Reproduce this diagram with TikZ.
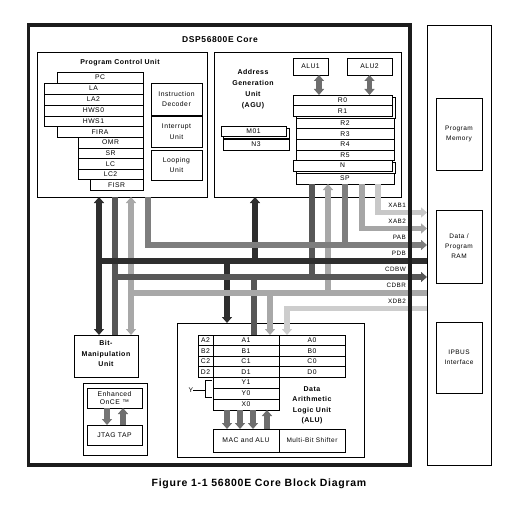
\documentclass[tikz,border=0pt]{standalone}
\usepackage{fontspec}
\setmainfont{Liberation Sans}[LetterSpace=7]
\usetikzlibrary{arrows.meta}
\definecolor{cpdb}{HTML}{2E2E2E}
\definecolor{ccdbw}{HTML}{575757}
\definecolor{cpab}{HTML}{7E7E7E}
\definecolor{ccdbr}{HTML}{A8A8A8}
\definecolor{cxab2}{HTML}{A6A6A6}
\definecolor{cxab1}{HTML}{C8C8C8}
\definecolor{cxdb2}{HTML}{CDCDCD}
\definecolor{cgarr}{HTML}{6E6E6E}
\definecolor{cframe}{HTML}{1C1C1C}
\newcommand{\fsz}[2]{\fontsize{#1}{#2}\selectfont}
\newcommand{\bx}[7][]{\node[bxs,#1,minimum width={(#5-#3)*1pt},minimum height={(#6-#4)*1pt}] (#2) at ({(#3+#5)/2},{(#4+#6)/2}) {#7};}
\tikzset{
 bxs/.style={draw=black,line width=0.7pt,inner sep=0pt,outer sep=0pt,fill=white,align=center,font=\fsz{6.8}{10.5}},
 ttl/.style={font=\bfseries\fsz{7}{10.5},align=center,inner sep=0pt},
 bus/.style={line width=5.5pt},
 fat/.style={line width=5.5pt,cgarr},
 lbl/.style={font=\fsz{6.3}{7},inner sep=0pt,anchor=east},
 thinl/.style={line width=0.6pt},
}
\begin{document}
\begin{tikzpicture}[x=1pt,y=-1pt,>={Triangle[width=10pt,length=6pt]}]
\useasboundingbox (0,0) rectangle (524,516);
% memory column
\bx{mem}{427}{25}{491}{465.5}{}
\bx[font=\fsz{6.5}{10}]{pm}{436}{98}{482}{170}{Program\\Memory}
\bx[font=\fsz{6.5}{10}]{dr}{436}{210}{482}{283}{Data /\\Program\\RAM}
\bx[font=\fsz{6.5}{10}]{ip}{436}{322}{482}{393}{IPBUS\\Interface}
% program control unit
\bx{pcu}{37}{52}{207}{197}{}
\node[ttl] (pcut) at (120,63) {Program Control Unit};
\bx{pc}{57}{72}{143}{83}{PC}
\bx{la}{44}{83}{143}{94}{LA}
\bx{la2}{44}{94}{143}{105}{LA2}
\bx{hws0}{44}{105}{143}{116}{HWS0}
\bx{hws1}{44}{116}{143}{126.5}{HWS1}
\bx{fira}{57}{126.5}{143}{137}{FIRA}
\bx{omr}{78}{137}{143}{148}{OMR}
\bx{sr}{78}{148}{143}{158.5}{SR}
\bx{lc}{78}{158.5}{143}{169}{LC}
\bx{lc2}{78}{169}{143}{179.5}{LC2}
\bx{fisr}{90}{179.5}{143}{190}{FISR}
\bx{idec}{151}{83}{202}{115}{Instruction\\Decoder}
\bx{iunit}{151}{116}{202}{147}{Interrupt\\Unit}
\bx{lunit}{151}{150}{202}{180}{Looping\\Unit}
% address generation unit
\bx{agu}{214}{52}{401}{197}{}
\node[ttl,font=\bfseries\fsz{7}{11}] (agut) at (253,89) {Address\\Generation\\Unit\\(AGU)};
\bx{alu1}{293}{58}{328}{75}{ALU1}
\bx{alu2}{347}{58}{392}{75}{ALU2}
\bx{rsh}{296}{97.5}{395}{118}{}
\bx{r0}{293}{95}{392}{105.5}{R0}
\bx{r1}{293}{105.5}{392}{116}{R1}
\bx{r2}{296}{118}{394}{128.5}{R2}
\bx{r3}{296}{128.5}{394}{139}{R3}
\bx{r4}{296}{139}{394}{150}{R4}
\bx{r5}{296}{150}{394}{160}{R5}
\bx{nsh}{296}{162}{395}{173}{}
\bx{nreg}{293}{160}{392}{171}{N}
\bx{sp}{296}{173}{394}{184}{SP}
\bx{msh}{223}{128.5}{289}{138.5}{}
\bx{m01}{221}{126}{286}{136.5}{M01}
\bx{n3}{223}{139}{289}{150}{N3}
\coordinate (a1x) at (319,0);
\draw[fat,<->] (alu1.south -| a1x) -- (r0.north -| a1x);
\draw[fat,<->] (alu2.south) -- (r0.north -| alu2.south);
% bit manipulation unit
\bx{bmu}{74}{335}{138}{377}{}
\node[ttl] (bmut) at (106,353.5) {Bit-\\Manipulation\\Unit};
% OnCE
\bx{once}{83}{383}{147}{455}{}
\bx{eonce}{87}{388}{142}{408}{Enhanced\\[-2.5pt]OnCE ™}
\bx{jtag}{87}{425}{142}{445}{JTAG TAP}
\coordinate (ox1) at (107,0);
\coordinate (ox2) at (123,0);
\draw[fat,->,cgarr!95!white] (eonce.south -| ox1) -- (jtag.north -| ox1);
\draw[fat,->] (jtag.north -| ox2) -- (eonce.south -| ox2);
% data ALU
\bx{alu}{177}{323}{364}{457}{}
\bx{a2}{198}{335}{213}{345.5}{A2}
\bx{a1}{213}{335}{279}{345.5}{A1}
\bx{a0}{279}{335}{345}{345.5}{A0}
\bx{b2}{198}{345.5}{213}{356}{B2}
\bx{b1}{213}{345.5}{279}{356}{B1}
\bx{b0}{279}{345.5}{345}{356}{B0}
\bx{c2}{198}{356}{213}{366.5}{C2}
\bx{c1}{213}{356}{279}{366.5}{C1}
\bx{c0}{279}{356}{345}{366.5}{C0}
\bx{d2}{198}{366.5}{213}{377}{D2}
\bx{d1}{213}{366.5}{279}{377}{D1}
\bx{d0}{279}{366.5}{345}{377}{D0}
\bx{y1}{213}{377}{279}{388}{Y1}
\bx{y0}{213}{388}{279}{399}{Y0}
\bx{x0}{213}{399}{279}{410}{X0}
\bx{mac}{213}{429}{279}{452}{MAC and ALU}
\bx[font=\fsz{6.5}{8}]{mbs}{279}{429}{345}{452}{Multi-Bit Shifter}
\node[ttl] (alut) at (312,405.5) {Data\\Arithmetic\\Logic Unit\\(ALU)};
\node[inner sep=0pt,font=\fsz{6.8}{8}] (ylbl) at (191,390) {Y};
\coordinate (ybt) at (212,380);
\coordinate (ybb) at (212,397);
\coordinate (ybm) at (205,390);
\draw[thinl] (ylbl.east) -- (ybm);
\draw[thinl] (ybt) -- (ybt -| ybm) -- (ybb -| ybm) -- (ybb);
\foreach \xx/\nm in {227/m1,240/m2,253/m3} {
  \coordinate (\nm) at (\xx,0);
  \draw[fat,->] (x0.south -| \nm) -- (mac.north -| \nm);
}
\coordinate (m4) at (267,0);
\draw[fat,->] (mac.north -| m4) -- (x0.south -| m4);
% bus anchor points
\coordinate (xab1) at (378,212.5);
\coordinate (xab2) at (362,228.5);
\coordinate (pab) at (148,245);
\coordinate (pabA) at (345,245);
\coordinate (pdb) at (99,261);
\coordinate (pdbA) at (255,261);
\coordinate (pdbL) at (227,261);
\coordinate (cdbw) at (115,277);
\coordinate (cdbwA) at (312,277);
\coordinate (cdbwL) at (254,277);
\coordinate (cdbr) at (131,293);
\coordinate (cdbrA) at (328,293);
\coordinate (cdbrL) at (270,293);
\coordinate (xdb2) at (287,308.5);
% vertical bus segments
\draw[bus,cpdb,<->] (pcu.south -| pdb) -- (bmu.north -| pdb);
\draw[bus,ccdbw] (pcu.south -| cdbw) -- (bmu.north -| cdbw);
\draw[bus,ccdbr,<->] (pcu.south -| cdbr) -- (bmu.north -| cdbr);
\draw[bus,cpab] (pcu.south -| pab) -- (pab);
\draw[bus,cpdb,->] (pdbA) -- (agu.south -| pdbA);
\draw[bus,ccdbw] (sp.south -| cdbwA) -- (cdbwA);
\draw[bus,ccdbr,->] (cdbrA) -- (sp.south -| cdbrA);
\draw[bus,cpab] (sp.south -| pabA) -- (pabA);
\draw[bus,cxab2] (sp.south -| xab2) -- (xab2);
\draw[bus,cxab1] (sp.south -| xab1) -- (xab1);
\draw[bus,cpdb,->] (pdbL) -- (alu.north -| pdbL);
\draw[bus,ccdbw] (cdbwL) -- (a1.north -| cdbwL);
\draw[bus,ccdbr,->] (cdbrL) -- (a1.north -| cdbrL);
\draw[bus,cxdb2,->] (xdb2) -- (a0.north -| xdb2);
% horizontal buses
\draw[bus,cxab1,->] ([xshift=-2.75pt]xab1) -- (xab1 -| mem.west);
\draw[bus,cxab2,->] ([xshift=-2.75pt]xab2) -- (xab2 -| mem.west);
\draw[bus,cpab,->] ([xshift=-2.75pt]pab) -- (pab -| mem.west);
\draw[bus,cpdb] ([xshift=-2.75pt]pdb) -- (pdb -| mem.west);
\draw[bus,ccdbw,->] ([xshift=-2.75pt]cdbw) -- (cdbw -| mem.west);
\draw[bus,ccdbr] ([xshift=-2.75pt]cdbr) -- (cdbr -| mem.west);
\draw[bus,cxdb2] ([xshift=-2.75pt]xdb2) -- (xdb2 -| mem.west);
% bus labels
\node[lbl] (lxab1) at (406,205) {XAB1};
\node[lbl] (lxab2) at (406,221) {XAB2};
\node[lbl] (lpab) at (406,237) {PAB};
\node[lbl] (lpdb) at (406,253) {PDB};
\node[lbl] (lcdbw) at (406,269) {CDBW};
\node[lbl] (lcdbr) at (406,285) {CDBR};
\node[lbl] (lxdb2) at (406,301) {XDB2};
% core frame and titles
\bx[draw=cframe,line width=3.5pt,fill=none]{core}{28.5}{25}{410}{465}{}
\node[inner sep=0pt,font=\bfseries\fsz{8.5}{10}] (coret) at (220,40) {DSP56800E Core};
\node[inner sep=0pt,font=\bfseries\fsz{10.5}{12}] (caption) at (259,484) {Figure 1-1 56800E Core Block Diagram};
\end{tikzpicture}
\end{document}
